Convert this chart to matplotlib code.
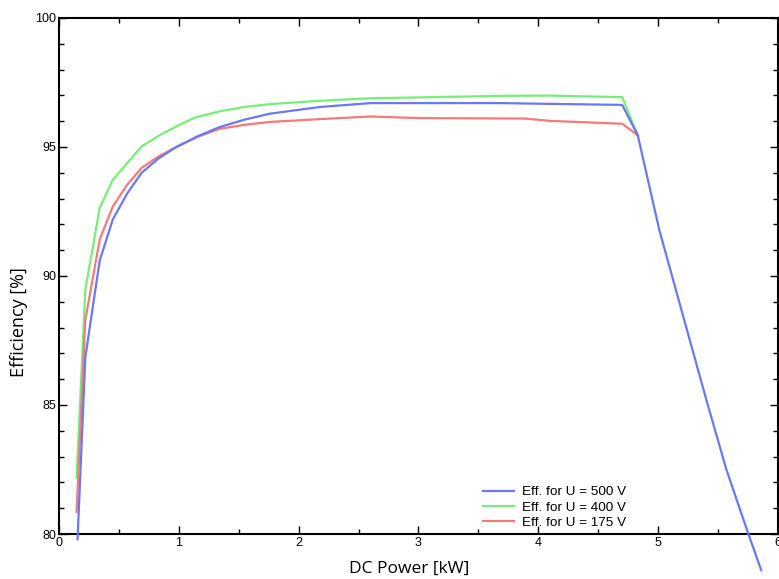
import numpy as np
import matplotlib
matplotlib.use("Agg")
import matplotlib.pyplot as plt
from matplotlib.ticker import MultipleLocator

# ================================================================
# DATA
# ================================================================
p_500 = [0.155, 0.22, 0.34, 0.45, 0.57, 0.69, 0.83, 0.98, 1.16, 1.34, 1.55, 1.76, 2.18, 2.60,
         3.01, 3.68, 4.10, 4.70, 4.83, 5.01, 5.21, 5.41, 5.57, 5.75, 5.86]
eff_500 = [79.8, 86.85, 90.6, 92.2, 93.2, 94.0, 94.55, 95.0, 95.42, 95.77, 96.06, 96.29, 96.55, 96.70,
           96.70, 96.70, 96.67, 96.63, 95.45, 91.78, 88.42, 85.07, 82.49, 80.04, 78.6]

p_400 = [0.147, 0.22, 0.34, 0.45, 0.57, 0.69, 0.83, 0.98, 1.135, 1.34, 1.55, 1.76, 2.18,
         2.60, 3.01, 3.68, 4.10, 4.70, 4.83]
eff_400 = [82.2, 89.48, 92.64, 93.73, 94.38, 95.02, 95.43, 95.8, 96.14, 96.38, 96.55, 96.66, 96.79,
           96.89, 96.92, 96.98, 96.99, 96.93, 95.45]

p_175 = [0.147, 0.22, 0.34, 0.45, 0.57, 0.69, 0.83, 0.98, 1.16, 1.34, 1.55, 1.76, 2.18, 2.60,
         3.01, 3.89, 4.10, 4.70, 4.83]
eff_175 = [80.85, 88.3, 91.41, 92.7, 93.54, 94.19, 94.63, 95.0, 95.4, 95.70, 95.86, 95.97, 96.08, 96.18,
           96.12, 96.10, 96.01, 95.90, 95.45]

labels = ["Eff. for U = 500 V", "Eff. for U = 400 V", "Eff. for U = 175 V"]

# ================================================================
# PLOT
# ================================================================
plt.rcParams["font.family"] = ["Liberation Sans", "DejaVu Sans"]

fig = plt.figure(figsize=(7.79, 5.79), dpi=100)
ax = fig.add_axes([0.0757, 0.0777, 0.9230, 0.8913])

ax.plot(p_500, eff_500, color="#6a78f2", lw=1.6, label=labels[0], clip_on=False, zorder=3)
ax.plot(p_400, eff_400, color="#77ee77", lw=1.6, label=labels[1], zorder=2)
ax.plot(p_175, eff_175, color="#f57a7a", lw=1.6, label=labels[2], zorder=2)

ax.set_xlim(0, 6)
ax.set_ylim(80, 100)
ax.xaxis.set_major_locator(MultipleLocator(1))
ax.xaxis.set_minor_locator(MultipleLocator(0.5))
ax.yaxis.set_major_locator(MultipleLocator(5))
ax.yaxis.set_minor_locator(MultipleLocator(1))
ax.tick_params(which="both", direction="in", top=True, right=True, labelsize=9, width=1.0)
ax.tick_params(which="major", length=6, pad=2)
ax.tick_params(which="minor", length=3.5)
for s in ax.spines.values():
    s.set_linewidth(1.5)

ax.set_xlabel("DC Power [kW]", family="Open Sans", fontsize=12.5)
ax.set_ylabel("Efficiency [%]", family="Open Sans", fontsize=13)
ax.xaxis.set_label_coords(0.487, -0.052)
ax.yaxis.set_label_coords(-0.043, 0.41)

ax.legend(loc="lower left", bbox_to_anchor=(0.577, -0.008), frameon=False, fontsize=9.7,
          handlelength=2.3, handletextpad=0.6, labelspacing=0.2, borderpad=0.2)

fig.savefig("out.png", dpi=100)
